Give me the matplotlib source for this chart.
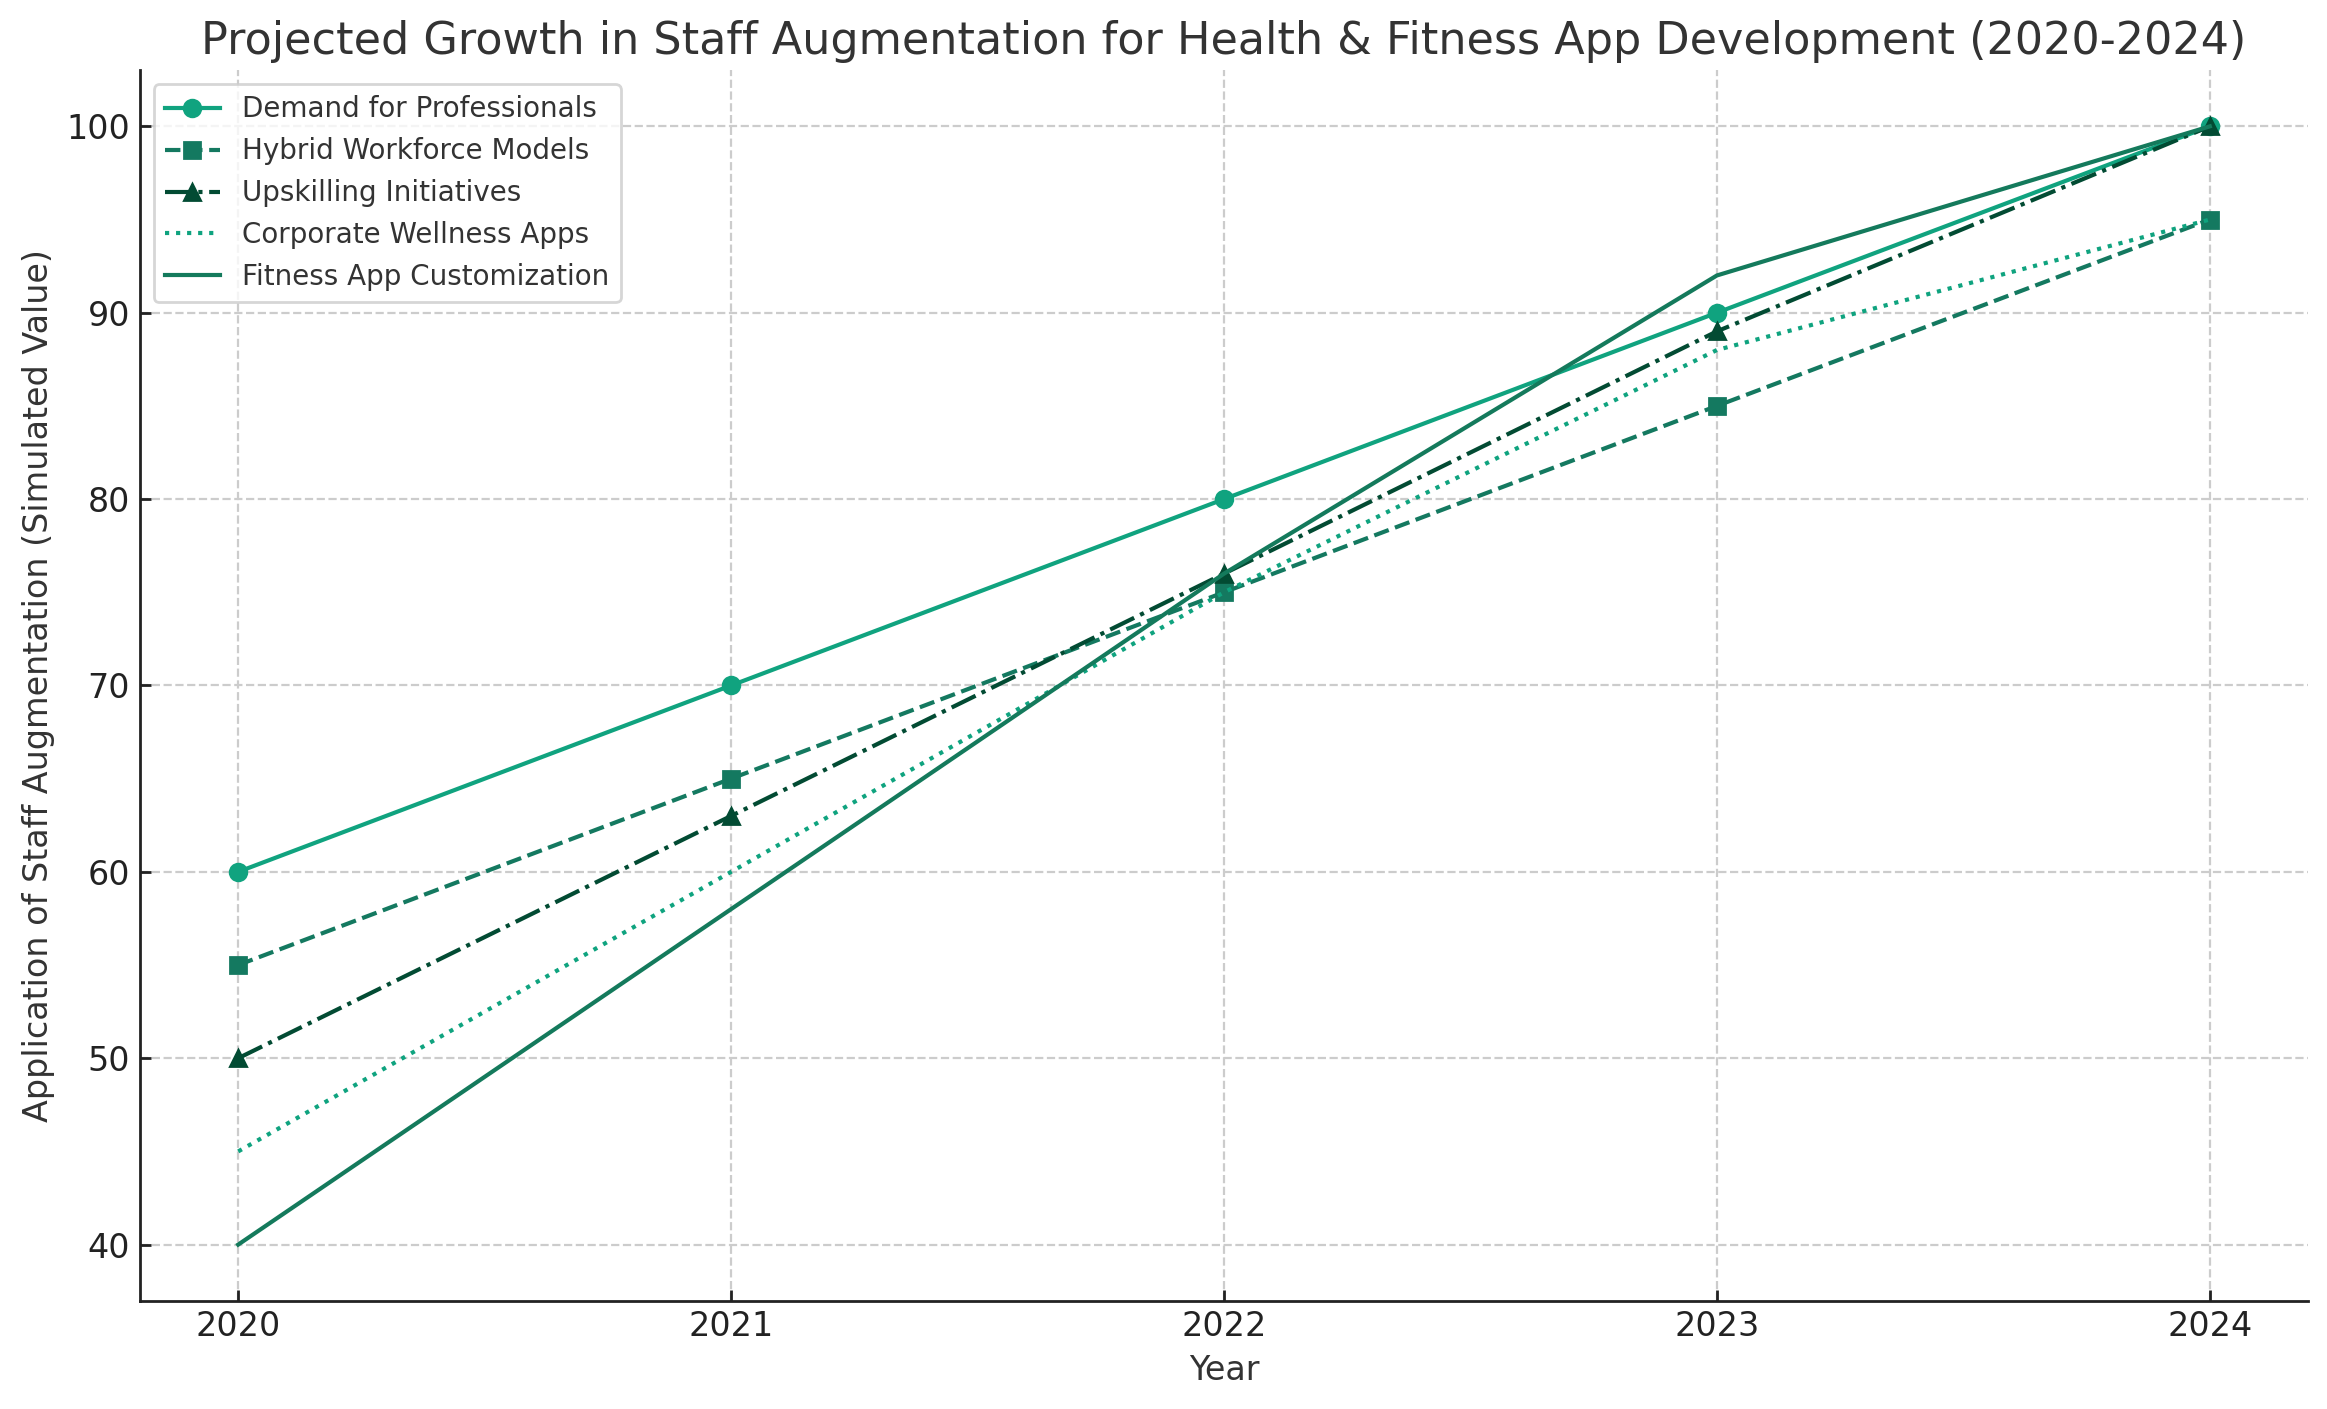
import matplotlib
matplotlib.use('Agg')
import matplotlib.pyplot as plt

# data
years = [2020, 2021, 2022, 2023, 2024]
demand     = [60, 70, 80, 90, 100]
hybrid     = [55, 65, 75, 85, 95]
upskilling = [50, 63, 76, 89, 100]
wellness   = [45, 60, 75, 88, 95]
fitness    = [40, 58, 76, 92, 100]

plt.rcParams['text.color'] = '#333333'
plt.rcParams['axes.labelcolor'] = '#333333'
plt.rcParams['xtick.color'] = '#222222'
plt.rcParams['ytick.color'] = '#222222'

DPI = 200
fig, ax = plt.subplots(figsize=(2327 / DPI, 1409 / DPI), dpi=DPI)
fig.subplots_adjust(left=0.060, right=0.992, bottom=0.077, top=0.950)

ax.plot(years, demand, color='#10a37f', marker='o', linestyle='-',
        label='Demand for Professionals')
ax.plot(years, hybrid, color='#147960', marker='s', linestyle='--',
        label='Hybrid Workforce Models')
ax.plot(years, upskilling, color='#024b33', marker='^', linestyle='-.',
        label='Upskilling Initiatives')
ax.plot(years, wellness, color='#0fa37f', linestyle=':',
        label='Corporate Wellness Apps')
ax.plot(years, fitness, color='#147a5c', linestyle='-',
        label='Fitness App Customization')

ax.set_title('Projected Growth in Staff Augmentation for Health & Fitness App Development (2020-2024)',
             fontsize=16)
ax.set_xlabel('Year', fontsize=12)
ax.set_ylabel('Application of Staff Augmentation (Simulated Value)', fontsize=12)
ax.set_xticks(years)
ax.tick_params(direction='in', labelsize=12, length=4, width=1)

ax.grid(True, linestyle='--', color='#cccccc', lw=0.8)
ax.spines['top'].set_visible(False)
ax.spines['right'].set_visible(False)
for s in ('left', 'bottom'):
    ax.spines[s].set_linewidth(1.0)
    ax.spines[s].set_color('#222222')

ax.legend(loc='upper left', fontsize=10, framealpha=0.8, edgecolor='#cccccc')

fig.savefig('out.png', dpi=DPI)
